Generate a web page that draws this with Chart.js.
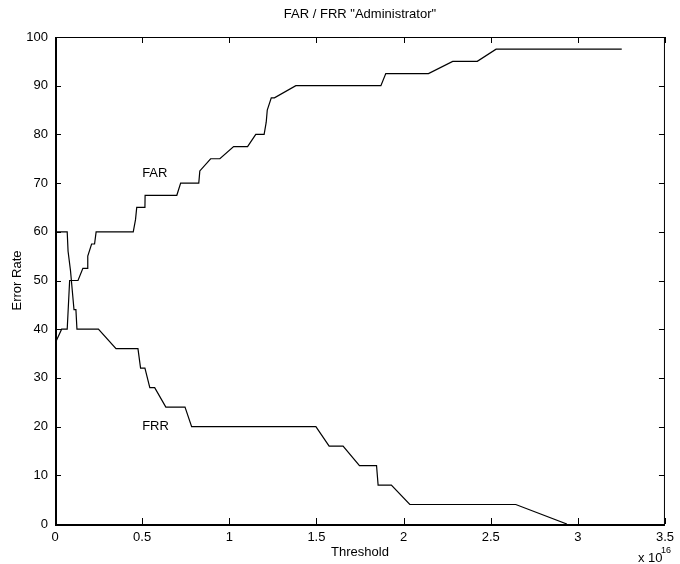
<!DOCTYPE html>
<html>
<head>
<meta charset="utf-8">
<title>FAR / FRR</title>
<script src="https://cdn.jsdelivr.net/npm/chart.js@4.4.1/dist/chart.umd.min.js"></script>
<style>
  html, body { margin: 0; padding: 0; background: #fff; }
  #wrap { width: 680px; height: 564px; }
</style>
</head>
<body>
<div id="wrap"><canvas id="chart" width="680" height="564"></canvas></div>
<script>
// thresholds are in units of 1e16 (see the "x 10^16" axis note)
const farThreshold = [0, 0.006, 0.038, 0.07, 0.084, 0.132, 0.16, 0.185, 0.188, 0.21, 0.227, 0.236,
  0.449, 0.462, 0.469, 0.516, 0.517, 0.699, 0.721, 0.825, 0.831, 0.893, 0.946, 1.025, 1.105,
  1.152, 1.2, 1.212, 1.218, 1.241, 1.259, 1.382, 1.87, 1.898, 2.143, 2.282, 2.423, 2.531, 3.252];
const farRate = [0, 37.5, 40, 40, 50, 50, 52.5, 52.5, 55, 57.5, 57.5, 60,
  60, 62.5, 65, 65, 67.5, 67.5, 70, 70, 72.5, 75, 75, 77.5, 77.5,
  80, 80, 82.5, 85, 87.5, 87.5, 90, 90, 92.5, 92.5, 95, 95, 97.5, 97.5];

const frrThreshold = [0, 0.006, 0.07, 0.075, 0.089, 0.109, 0.12, 0.126, 0.249, 0.35, 0.476,
  0.491, 0.516, 0.544, 0.572, 0.636, 0.746, 0.784, 1.497, 1.573, 1.653, 1.747, 1.845,
  1.854, 1.93, 2.036, 2.644, 2.937];
const frrRate = [100, 60, 60, 56, 52, 44, 44, 40, 40, 36, 36,
  32, 32, 28, 28, 24, 24, 20, 20, 16, 16, 12, 12,
  8, 8, 4, 4, 0];

const xTicks = [0, 0.5, 1, 1.5, 2, 2.5, 3, 3.5];
const yTicks = [0, 10, 20, 30, 40, 50, 60, 70, 80, 90, 100];

const titleText = 'FAR / FRR "Administrator"';
const xTitle = 'Threshold';
const yTitle = 'Error Rate';
const curveLabels = [
  { text: 'FAR', x: 0.5, y: 72 },
  { text: 'FRR', x: 0.5, y: 20 }
];

const FONT = '"Liberation Sans", Arial, Helvetica, sans-serif';
Chart.defaults.font.family = FONT;
Chart.defaults.font.size = 13;
Chart.defaults.color = '#000';

const toPoints = (xs, ys) => xs.map((x, i) => ({ x: x, y: ys[i] }));

// box, inward ticks on all four sides, and the text annotations
const matlabAxes = {
  id: 'matlabAxes',
  afterDraw(chart) {
    const ctx = chart.ctx;
    const a = chart.chartArea;
    const xs = chart.scales.x;
    const ys = chart.scales.y;
    const tl = 6;
    ctx.save();
    ctx.strokeStyle = '#000';

    ctx.lineWidth = 1;
    ctx.beginPath();
    ctx.moveTo(a.left, a.top + 0.5);
    ctx.lineTo(a.right, a.top + 0.5);
    ctx.moveTo(a.right - 0.5, a.top);
    ctx.lineTo(a.right - 0.5, a.bottom);
    ctx.stroke();

    ctx.lineWidth = 2;
    ctx.beginPath();
    ctx.moveTo(a.left + 1, a.top);
    ctx.lineTo(a.left + 1, a.bottom + 1);
    ctx.lineTo(a.right, a.bottom + 1);
    ctx.stroke();

    ctx.lineWidth = 1;
    ctx.beginPath();
    xTicks.forEach(v => {
      const px = Math.round(xs.getPixelForValue(v)) + 0.5;
      ctx.moveTo(px, a.bottom);
      ctx.lineTo(px, a.bottom - tl);
      ctx.moveTo(px, a.top);
      ctx.lineTo(px, a.top + tl);
    });
    yTicks.forEach(v => {
      const py = Math.round(ys.getPixelForValue(v)) + 0.5;
      ctx.moveTo(a.left, py);
      ctx.lineTo(a.left + tl, py);
      ctx.moveTo(a.right, py);
      ctx.lineTo(a.right - tl, py);
    });
    ctx.stroke();

    ctx.fillStyle = '#000';
    ctx.font = '13px ' + FONT;
    ctx.textAlign = 'center';
    ctx.textBaseline = 'middle';
    const cx = (a.left + a.right) / 2;
    ctx.fillText(titleText, cx, 14);
    ctx.fillText(xTitle, cx, 552);

    ctx.save();
    ctx.translate(17.5, (a.top + a.bottom) / 2);
    ctx.rotate(-Math.PI / 2);
    ctx.fillText(yTitle, 0, 0);
    ctx.restore();

    ctx.textAlign = 'left';
    curveLabels.forEach(l => {
      ctx.fillText(l.text, xs.getPixelForValue(l.x), ys.getPixelForValue(l.y));
    });

    ctx.textBaseline = 'alphabetic';
    ctx.fillText('x 10', 638, 562);
    ctx.font = '9px ' + FONT;
    ctx.fillText('16', 661, 553);
    ctx.restore();
  }
};

new Chart(document.getElementById('chart'), {
  type: 'scatter',
  data: {
    datasets: [
      {
        label: 'FAR',
        data: toPoints(farThreshold, farRate),
        showLine: true,
        borderColor: '#000',
        borderWidth: 1.2,
        pointRadius: 0,
        tension: 0
      },
      {
        label: 'FRR',
        data: toPoints(frrThreshold, frrRate),
        showLine: true,
        borderColor: '#000',
        borderWidth: 1.2,
        pointRadius: 0,
        tension: 0
      }
    ]
  },
  options: {
    responsive: false,
    devicePixelRatio: 1,
    animation: false,
    layout: { padding: { left: 0, right: 7, top: 37, bottom: 0 } },
    plugins: {
      legend: { display: false },
      title: { display: false },
      tooltip: { enabled: false }
    },
    scales: {
      x: {
        type: 'linear',
        min: 0,
        max: 3.5,
        grid: { display: false, drawTicks: false },
        border: { display: false },
        afterBuildTicks: s => { s.ticks = xTicks.map(v => ({ value: v })); },
        afterFit: s => { s.height = 40; },
        ticks: {
          padding: 6,
          maxRotation: 0,
          autoSkip: false,
          color: '#000',
          callback: v => String(v)
        }
      },
      y: {
        min: 0,
        max: 100,
        grid: { display: false, drawTicks: false },
        border: { display: false },
        afterBuildTicks: s => { s.ticks = yTicks.map(v => ({ value: v })); },
        afterFit: s => { s.width = 55; },
        ticks: { padding: 7, autoSkip: false, color: '#000', callback: v => String(v) }
      }
    }
  },
  plugins: [matlabAxes]
});
</script>
</body>
</html>
